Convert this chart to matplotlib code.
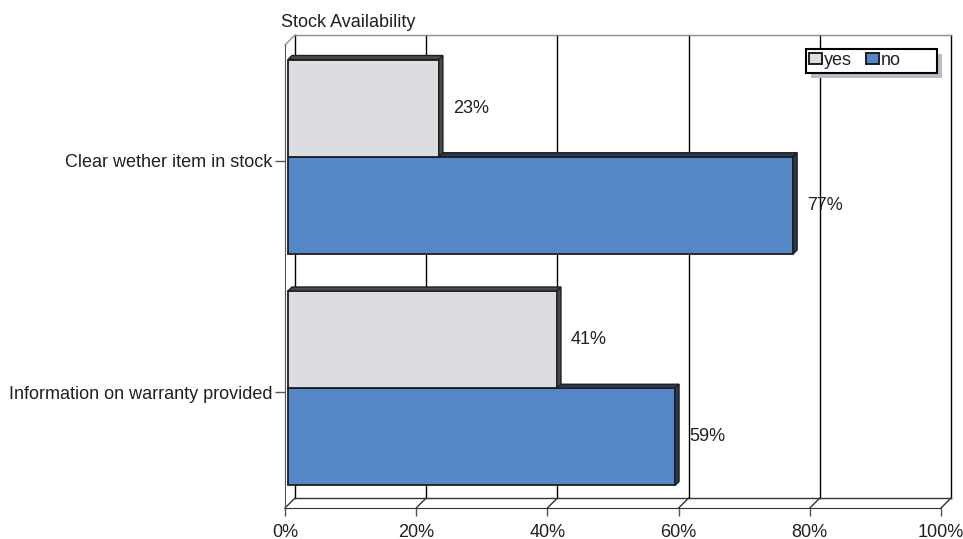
import matplotlib
matplotlib.use("Agg")
import matplotlib.pyplot as plt
import matplotlib.transforms as mtransforms
from matplotlib.patches import Polygon, Rectangle, Patch
import numpy as np

# ---- data -------------------------------------------------------------
categories = ["Clear wether item in stock", "Information on warranty provided"]
series_names = ["yes", "no"]
yes_values = [23, 41]
no_values = [77, 59]
x_ticks = [0, 20, 40, 60, 80, 100]
x_tick_labels = ["0%", "20%", "40%", "60%", "80%", "100%"]
title = "Stock Availability"

# ---- style ------------------------------------------------------------
W, H, DPI = 963, 539, 100
plt.rcParams["font.family"] = ["Liberation Sans", "DejaVu Sans"]
plt.rcParams["font.size"] = 13
TEXT = "#231f20"
YES_FACE, YES_DARK = "#dcdde1", "#4b4b4f"
NO_FACE, NO_DARK = "#5586c6", "#2b3a52"
EDGE = "#1e1e1e"
WALL_GREY = "#8c8c8c"

fig = plt.figure(figsize=(W / DPI, H / DPI), dpi=DPI)
fig.patch.set_facecolor("white")


def fx(x):
    return x / W


def fy(y):
    return 1 - y / H


# front plane of the 3-D box (pixels: left, top, right, bottom)
L, T, R, B = 285, 45, 941, 508
ax = fig.add_axes([fx(L), fy(B), (R - L) / W, (B - T) / H])
ax.set_xlim(0, 100)
ax.set_ylim(len(categories) - 0.5, -0.5)
ax.patch.set_visible(False)


def data_step(dx_px, dy_px):
    """Size in data units of a screen displacement given in pixels."""
    inv = ax.transData.inverted()
    p0 = inv.transform((0, 0))
    p1 = inv.transform((dx_px, dy_px))
    return p1 - p0


y_bot, y_top = ax.get_ylim()
DEPTH = 10
ddx, ddy = data_step(DEPTH, DEPTH)

# back wall, grid and floor
for t in x_ticks:
    ax.plot([t + ddx, t + ddx], [y_bot + ddy, y_top + ddy], color="black",
            lw=1, clip_on=False, zorder=1)
    ax.plot([t, t + ddx], [y_bot, y_bot + ddy], color="#333333", lw=1,
            clip_on=False, zorder=1)
ax.plot([ddx, 100 + ddx], [y_top + ddy, y_top + ddy], color=WALL_GREY, lw=1,
        clip_on=False, zorder=1)
ax.plot([ddx, 100 + ddx], [y_bot + ddy, y_bot + ddy], color="#333333", lw=1,
        clip_on=False, zorder=1)
ax.plot([0, ddx], [y_top, y_top + ddy], color=WALL_GREY, lw=1,
        clip_on=False, zorder=1)

for side in ("top", "right"):
    ax.spines[side].set_visible(False)
ax.spines["left"].set_color("#555555")
ax.spines["bottom"].set_color("#333333")
ax.spines["left"].set_zorder(2)

# bars, set slightly back into the box
pos = np.arange(len(categories))
bar_h = 0.42
bar_off = mtransforms.offset_copy(ax.transData, fig=fig, x=3, y=4, units="dots")
ex, ey = data_step(4, 4)

bars_yes = ax.barh(pos - bar_h / 2, yes_values, height=bar_h, color=YES_FACE,
                   edgecolor=EDGE, lw=1.3)
bars_no = ax.barh(pos + bar_h / 2, no_values, height=bar_h, color=NO_FACE,
                  edgecolor=EDGE, lw=1.3)

label_tr = mtransforms.offset_copy(ax.transData, fig=fig, x=17, y=4,
                                   units="dots")
n = len(categories)
for bars, dark, rank in ((bars_no, NO_DARK, 0), (bars_yes, YES_DARK, 1)):
    for i, rect in enumerate(bars):
        z = 10 + (n - 1 - i) * 2 + rank
        rect.set_transform(bar_off)
        rect.set_zorder(z)
        rect.set_clip_on(False)
        v = rect.get_width()
        yt = rect.get_y()
        yb = yt + rect.get_height()
        top_face = Polygon([(0, yt), (v, yt), (v + ex, yt + ey), (ex, yt + ey)],
                           closed=True, facecolor=dark, edgecolor=EDGE, lw=1.0,
                           transform=bar_off, zorder=z + 0.5, clip_on=False)
        side_face = Polygon([(v, yt), (v + ex, yt + ey), (v + ex, yb + ey), (v, yb)],
                            closed=True, facecolor=dark, edgecolor=EDGE, lw=1.0,
                            transform=bar_off, zorder=z + 0.5, clip_on=False)
        ax.add_patch(top_face)
        ax.add_patch(side_face)
        ax.text(v, rect.get_y() + rect.get_height() / 2, f"{v:g}%",
                transform=label_tr, va="center", ha="left", color=TEXT,
                fontsize=13, zorder=30)

# axes ticks
ax.set_xticks(x_ticks)
ax.set_xticklabels(x_tick_labels, color=TEXT)
ax.set_yticks(pos)
ax.set_yticklabels(categories, color=TEXT)
ax.tick_params(axis="x", length=5.8, width=1, color="#555555", pad=5.5)
ax.tick_params(axis="y", length=7.2, width=1, color="#555555", pad=2)

# title
fig.text(fx(281), fy(27), title, ha="left", va="baseline", color=TEXT,
         fontsize=13)

# legend with box and drop shadow
lx, ly, lw_, lh = 806, 49, 131, 24
fig.add_artist(Rectangle((fx(lx + 5), fy(ly + lh + 5)), lw_ / W, lh / H,
                         transform=fig.transFigure, facecolor="#b8bcc4",
                         edgecolor="none", zorder=2))
fig.add_artist(Rectangle((fx(lx), fy(ly + lh)), lw_ / W, lh / H,
                         transform=fig.transFigure, facecolor="white",
                         edgecolor="black", lw=1.5, zorder=3))
handles = [Patch(facecolor=YES_FACE, edgecolor=EDGE, lw=1.4),
           Patch(facecolor=NO_FACE, edgecolor=EDGE, lw=1.4)]
leg = fig.legend(handles, series_names, loc="upper left",
                 bbox_to_anchor=(fx(lx + 3), fy(ly + 3)),
                 bbox_transform=fig.transFigure, ncol=2, frameon=False,
                 handlelength=0.7, handleheight=0.6, handletextpad=0.1,
                 columnspacing=0.8, borderpad=0, borderaxespad=0, fontsize=13)
leg.set_zorder(5)
for t in leg.get_texts():
    t.set_color(TEXT)

fig.savefig("out.png", dpi=DPI, facecolor="white")
